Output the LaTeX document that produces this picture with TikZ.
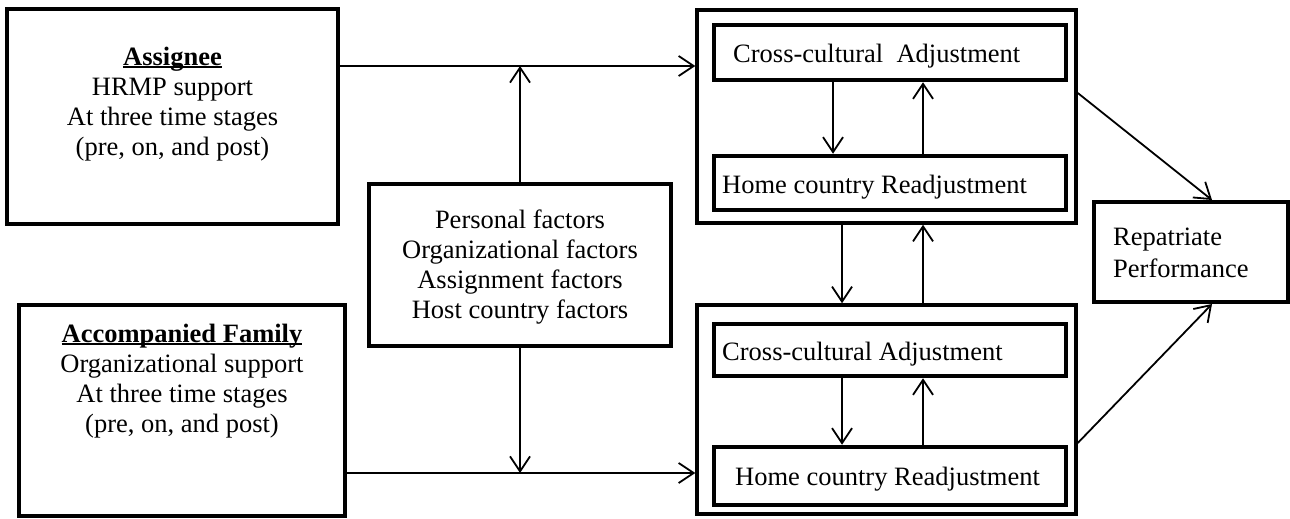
\documentclass[tikz,border=0pt]{standalone}
\usepackage{fontspec}
\setmainfont{Liberation Serif}
\usetikzlibrary{arrows.meta,calc}
\newcommand\myul[1]{\setbox0\hbox{#1}\rlap{\rule[-3pt]{\wd0}{1.8pt}}\box0}
\begin{document}
\begin{tikzpicture}[x=1pt,y=-1pt,
  thickbox/.style={draw, line width=4pt, inner sep=0pt},
  outerbox/.style={draw, line width=3.5pt, inner sep=0pt, minimum width=379pt},
  innerbox/.style={draw, line width=4.5pt, inner sep=0pt, minimum width=352pt},
  txt/.style={inner sep=0pt, font=\fontsize{26.5}{30}\selectfont},
  arr/.style={line width=1.8pt, -{Straight Barb[length=15pt,width=20pt]}}
]
\useasboundingbox (0,0) rectangle (1290,519);

% left boxes
\node[thickbox, minimum width=331pt, minimum height=215pt] (assignee) at (172.5,116.5) {};
\node[txt, align=center, anchor=north] (assigneeT) at (172.5,44)
  {\strut\myul{\bfseries Assignee}\\ \strut HRMP support\\ \strut At three time stages\\ \strut (pre, on, and post)};

\node[thickbox, minimum width=326pt, minimum height=211pt] (accomp) at (182,410.5) {};
\node[txt, align=center, anchor=north] (accompT) at (182,321)
  {\strut\myul{\bfseries Accompanied Family}\\ \strut Organizational support\\ \strut At three time stages\\ \strut (pre, on, and post)};

% factors
\node[thickbox, minimum width=302pt, minimum height=162pt] (factors) at (520,265) {};
\node[txt, align=center, anchor=north] (factorsT) at (520,207)
  {\strut Personal factors\\ \strut Organizational factors\\ \strut Assignment factors\\ \strut Host country factors};

% right groups
\node[outerbox, minimum height=213pt] (topouter) at (886.5,116.5) {};
\node[innerbox, minimum height=55pt] (in1) at (890,52.5) {};
\node[innerbox, minimum height=54pt] (in2) at (890,183) {};
\node[txt, anchor=base west] (in1T) at (733,63) {Cross-cultural\ \ Adjustment};
\node[txt, anchor=base west] (in2T) at (722,193) {Home country Readjustment};

\node[outerbox, minimum height=209pt] (botouter) at (886.5,409.5) {};
\node[innerbox, minimum height=52pt] (in3) at (890,350) {};
\node[innerbox, minimum height=58pt] (in4) at (890,476) {};
\node[txt, anchor=base west] (in3T) at (722,360) {Cross-cultural Adjustment};
\node[txt, anchor=base west] (in4T) at (735,485) {Home country Readjustment};

% outcome
\node[thickbox, minimum width=194pt, minimum height=100pt] (repat) at (1191,252) {};
\node[txt, font=\fontsize{26.5}{32}\selectfont, align=left, anchor=north west] (repatT) at (1113,222.6)
  {\strut Repatriate\\ \strut Performance};

% helper coordinates
\coordinate (ytop) at (0,66);
\coordinate (ybot) at (0,473);
\coordinate (xa) at (833,0);
\coordinate (xb) at (923,0);
\coordinate (xc) at (842,0);
\coordinate (yd1) at (0,93);
\coordinate (yd2) at (0,443);
\coordinate (xd) at (1212,0);

% connectors
\draw[arr] (assignee.east |- ytop) -- (topouter.west |- ytop);
\draw[arr] (factors.north) -- (factors.north |- ytop);
\draw[arr] (factors.south) -- (factors.south |- ybot);
\draw[arr] (accomp.east |- ybot) -- (botouter.west |- ybot);
\draw[arr] (in1.south -| xa) -- (in2.north -| xa);
\draw[arr] (in2.north -| xb) -- (in1.south -| xb);
\draw[arr] (topouter.south -| xc) -- (botouter.north -| xc);
\draw[arr] (botouter.north -| xb) -- (topouter.south -| xb);
\draw[arr] (in3.south -| xc) -- (in4.north -| xc);
\draw[arr] (in4.north -| xb) -- (in3.south -| xb);
\draw[arr] (topouter.east |- yd1) -- (repat.north -| xd);
\draw[arr] (botouter.east |- yd2) -- (repat.south -| xd);
\end{tikzpicture}
\end{document}
